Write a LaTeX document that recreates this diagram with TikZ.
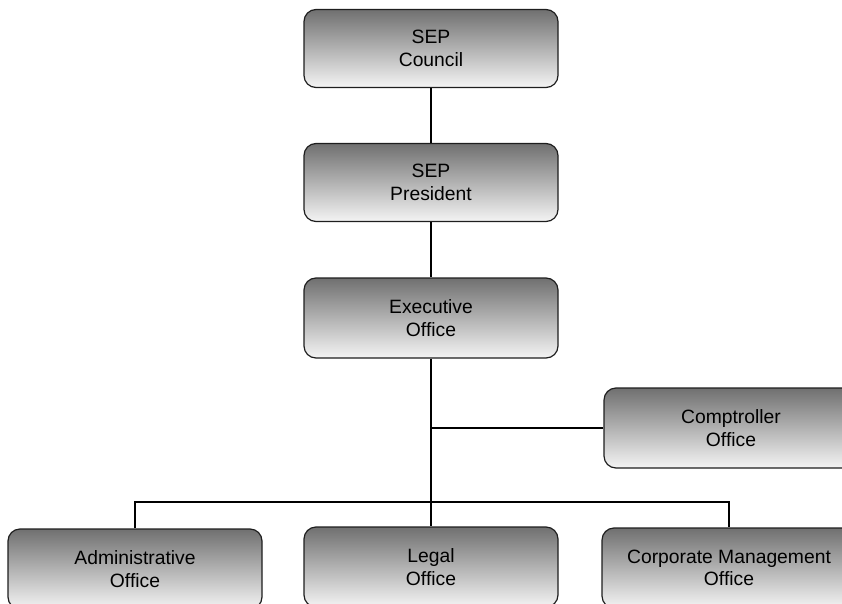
\documentclass[tikz,border=0pt]{standalone}
\usepackage{fontspec}
\setmainfont{Liberation Sans}
\usepackage{tikz}
\usetikzlibrary{positioning}
\definecolor{boxtop}{RGB}{112,112,112}
\definecolor{boxbottom}{RGB}{244,244,244}
\definecolor{boxline}{RGB}{30,30,30}

\begin{document}
\begin{tikzpicture}[x=1pt, y=-1pt,
    office/.style={
        rectangle, rounded corners=12pt,
        draw=boxline, line width=1.2pt,
        top color=boxtop, bottom color=boxbottom,
        minimum width=254pt, minimum height=78pt,
        align=center, inner sep=0pt,
        font=\fontsize{19.3}{22.5}\selectfont
    },
    link/.style={line width=1.3pt, black}
]
\useasboundingbox (0,0) rectangle (842,604);
\clip (0,0) rectangle (842,604);

\node[office] (council) at (431,48.5) {SEP\\Council};
\node[office] (president) at (431,182.5) {SEP\\President};
\node[office, minimum height=80pt] (exec) at (431,318) {Executive\\Office};
\node[office, minimum height=80pt] (comp) at (731,428) {Comptroller\\Office};
\node[office, minimum height=80pt] (admin) at (135,569) {Administrative\\Office};
\node[office, minimum height=80pt] (legal) at (431,567) {Legal\\Office};
\node[office, minimum height=80pt] (corp) at (729,568) {Corporate Management\\Office};

\coordinate (bar) at (431,502);

\draw[link] (council) -- (president);
\draw[link] (president) -- (exec);
\draw[link] (exec) -- (legal);
\draw[link] (comp) -- (comp -| exec);
\draw[link] (admin) -- (admin |- bar) -- (corp |- bar) -- (corp);
\end{tikzpicture}
\end{document}
